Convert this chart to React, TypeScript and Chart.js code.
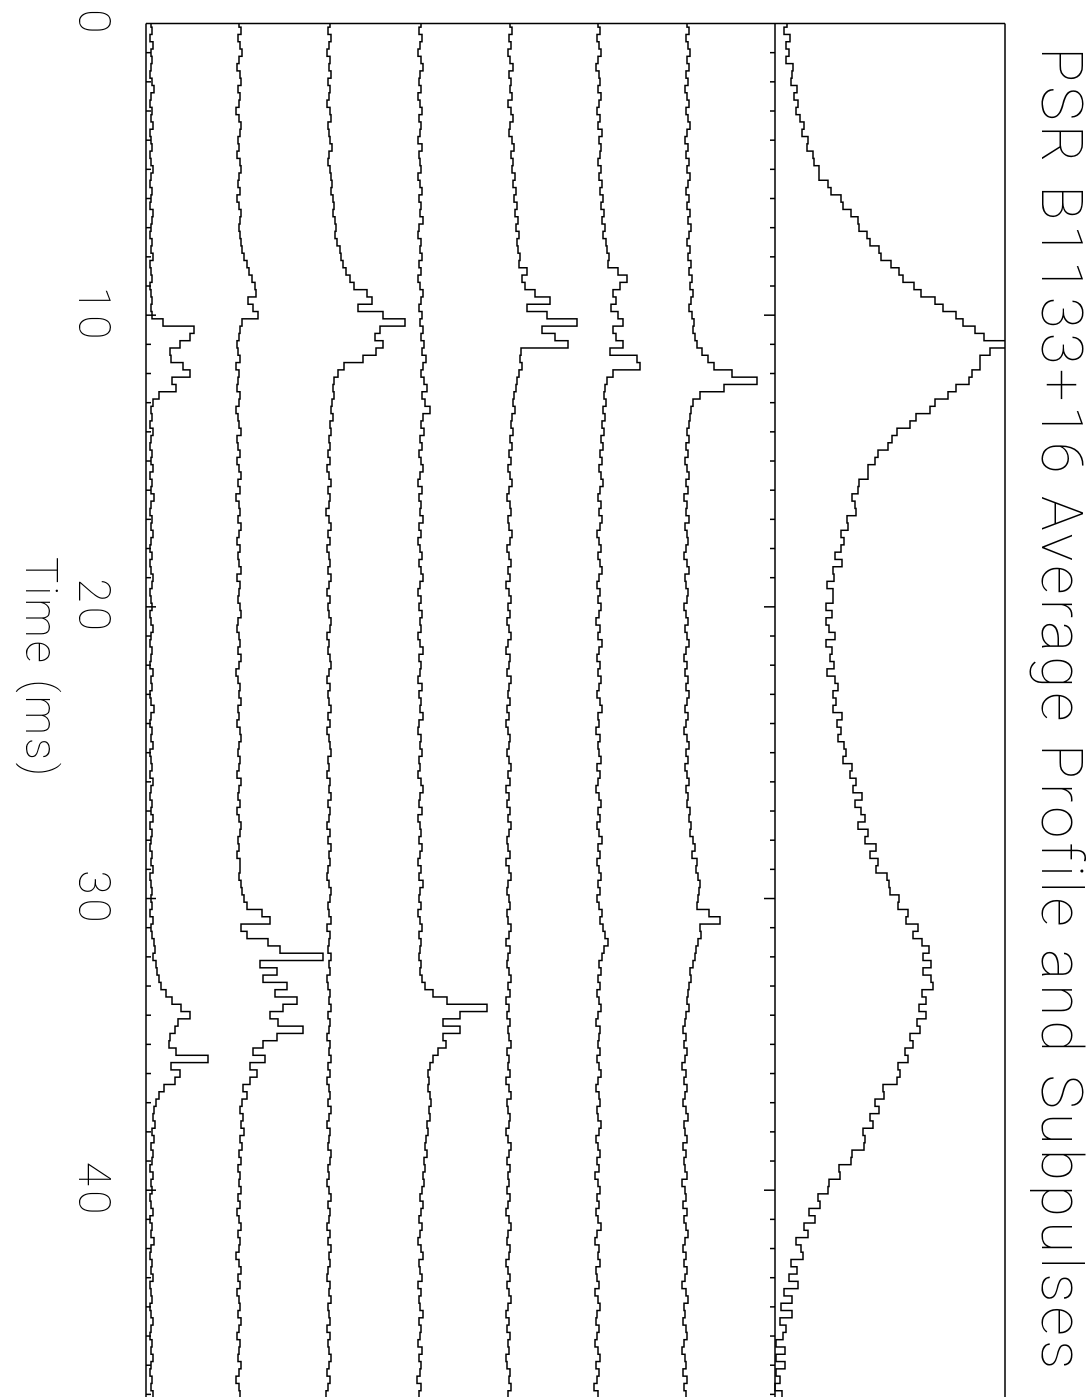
import { useEffect, useRef } from "react";
import { Chart, registerables } from "chart.js";

Chart.register(...registerables);

// Sampling of every trace: one value per 0.25 ms, starting at 0 ms.
const BIN_MS = 0.25;

const TITLE = "PSR B1133+16 Average Profile and Subpulses";
const X_TITLE = "Time (ms)";
const TIME_TICK_STEP = 10;

// Seven single subpulses (bottom to top), intensity in arbitrary units.
const S1 = [
  1, 2, 0, 3, 1, 2, 1, 0, 2, 4, 1, 0, 2, 1, 3, 0, 1, 2, 0, 1,
  3, 1, 0, 2, 1, 0, 3, 2, 1, 0, 2, 1, 3, 0, 1, 2, 0, 1, 2, 1,
  2, 13, 44, 40, 30, 20, 21, 33, 40, 22, 26, 9, 3, 1, 2, 0, 3, 1, 0, 2,
  1, 3, 0, 2, 1, 4, 1, 0, 2, 1, 3, 1, 0, 2, 0, 1, 3, 2, 0, 1,
  2, 0, 1, 3, 1, 0, 2, 1, 0, 3, 1, 2, 0, 1, 4, 1, 0, 2, 1, 3,
  0, 1, 2, 0, 3, 1, 0, 2, 1, 3, 0, 2, 1, 0, 2, 1, 3, 0, 1, 2,
  1, 2, 0, 3, 1, 2, 4, 5, 3, 6, 7, 9, 11, 16, 22, 31, 40, 28, 25, 20,
  19, 26, 58, 21, 30, 25, 14, 9, 6, 4, 3, 5, 2, 4, 1, 3, 2, 0, 3, 1,
  2, 0, 1, 3, 0, 2, 1, 4, 1, 0, 2, 1, 3, 0, 1, 2, 0, 1, 3, 1,
  0, 2, 1, 3, 1, 0, 2, 1, 3, 0,
];

const S2 = [
  1, 3, 0, 2, 4, 1, -1, 2, 3, 0, 2, 1, -2, 1, 3, 2, 0, 1, -1, 2,
  3, 1, 0, 2, -1, 1, 3, 2, 1, 2, 3, 4, 6, 9, 11, 14, 17, 18, 10, 15,
  20, 4, 2, 1, -1, 0, 2, -2, 1, 0, -1, 2, 1, -2, 0, 1, 3, -1, 0, 2,
  -1, 1, 3, 0, 2, -2, 1, 2, 0, 3, 1, -1, 2, 0, 1, 3, -1, 2, 1, 0,
  2, 3, 0, -1, 1, 2, 0, 3, 1, -2, 0, 2, 1, 3, 0, 1, -1, 2, 3, 1,
  0, 2, 1, -1, 3, 1, 0, 2, -1, 1, 3, 2, 0, 1, -1, 2, 2, 1, 3, 4,
  6, 9, 24, 32, 3, 9, 30, 42, 85, 22, 39, 25, 49, 37, 59, 45, 32, 40, 65, 39,
  25, 15, 27, 12, 19, 12, 5, 9, 4, 2, 5, 3, 6, 2, 4, 1, 3, 0, 2, 1,
  3, 0, 2, -1, 1, 3, 0, 2, 1, -2, 1, 3, 0, 2, -1, 1, 2, 0, 3, 1,
  -1, 2, 1, 0, 3, 1, -2, 1, 2, 0,
];

const S3 = [
  2, 0, 3, 1, -1, 2, 1, 3, 0, 2, 1, -1, 2, 3, 0, 1, 2, 4, 1, 0,
  2, 3, 4, 3, 5, 6, 5, 7, 8, 7, 9, 12, 13, 15, 18, 22, 26, 39, 44, 30,
  55, 77, 52, 47, 55, 48, 35, 16, 10, 6, 5, 6, 4, 3, 5, 2, 3, 1, 2, 0,
  2, -1, 1, 3, 0, 2, 1, -2, 1, 3, 0, 2, -1, 1, 2, 0, 3, 1, -1, 2,
  0, 1, 3, 2, -1, 1, 0, 2, 3, 1, -1, 2, 0, 1, 3, 0, 2, -1, 1, 2,
  3, 0, 1, -1, 2, 1, 3, 0, 2, 1, -1, 2, 0, 3, 1, 2, 0, -1, 1, 3,
  2, 0, 1, 3, -1, 2, 1, 0, 3, 1, 2, -1, 0, 2, 1, 3, 0, 2, 1, -1,
  2, 1, 3, 0, 2, -1, 1, 2, 0, 3, 1, -1, 2, 1, 0, 3, 2, 0, 1, -1,
  1, 3, 0, 2, 1, -1, 2, 0, 3, 1, 2, 0, -1, 2, 1, 3, 0, 1, 2, -1,
  2, 0, 1, 3, 1, -1, 2, 0, -2, 1,
];

const S4 = [
  3, 1, 4, 2, 0, 3, 5, 2, 1, 3, 0, 2, 4, 1, 3, 2, 0, 4, 1, 2,
  3, 0, 2, 4, 1, 3, 2, 5, 1, 0, 3, 2, 4, 1, 3, 0, 2, 5, 3, 1,
  4, 2, 5, 3, 6, 4, 8, 5, 3, 6, 9, 4, 7, 12, 5, 3, 6, 2, 4, 1,
  3, 5, 2, 0, 4, 1, 3, 2, 5, 1, 3, 0, 2, 4, 1, 3, 5, 2, 0, 3,
  1, 4, 2, 3, 0, 2, 5, 1, 3, 2, 0, 4, 1, 3, 2, 5, 1, 0, 3, 2,
  4, 1, 2, 0, 3, 5, 2, 1, 4, 0, 2, 3, 1, 4, 2, 0, 3, 1, 5, 2,
  1, 3, 0, 2, 4, 1, 3, 2, 1, 3, 2, 4, 7, 15, 29, 69, 42, 25, 42, 25,
  28, 20, 15, 12, 10, 11, 10, 12, 13, 11, 12, 9, 10, 8, 7, 9, 6, 7, 5, 6,
  4, 2, 5, 3, 1, 4, 2, 0, 3, 5, 1, 2, 4, 0, 3, 1, 2, 5, 1, 3,
  2, 0, 4, 1, 3, 2, -1, 3, 1, 4,
];

const S5 = [
  3, 5, 2, 4, 1, 3, 6, 2, 4, 3, 5, 1, 4, 6, 3, 2, 5, 7, 4, 6,
  5, 8, 6, 9, 7, 10, 8, 11, 9, 12, 10, 11, 13, 12, 20, 15, 18, 28, 43, 20,
  40, 70, 35, 48, 61, 14, 13, 15, 12, 10, 9, 7, 6, 8, 5, 4, 6, 3, 5, 2,
  4, 1, 3, 5, 2, 0, 3, 4, 1, 2, 5, 3, 0, 2, 4, 1, 3, -1, 2, 4,
  1, 3, 0, 2, 4, 1, -1, 3, 2, 0, 4, 2, 1, 3, 0, 2, -1, 1, 3, 2,
  0, 2, 4, 1, 3, -1, 2, 0, 3, 1, 4, 2, 0, 1, 3, -1, 2, 4, 1, 0,
  2, 3, 0, 1, 4, 2, -1, 3, 1, 0, 2, 4, 1, 3, -1, 2, 0, 3, 1, 2,
  4, 0, 2, 1, 3, -1, 2, 4, 0, 1, 3, 2, -1, 1, 4, 2, 0, 3, 1, 2,
  0, 3, 1, -1, 2, 4, 1, 0, 3, 2, -1, 1, 3, 0, 2, 4, 1, -1, 2, 0,
  3, 1, 2, -1, 0, 3, 2, 4, 1, 0,
];

const S6 = [
  2, 4, 1, 3, 5, 2, 0, 3, 4, 2, 5, 3, 1, 4, 2, 6, 3, 5, 4, 2,
  5, 3, 6, 4, 7, 5, 8, 6, 9, 7, 10, 11, 13, 12, 22, 31, 24, 17, 20, 15,
  22, 27, 17, 20, 27, 14, 41, 44, 17, 11, 9, 8, 10, 7, 9, 6, 8, 5, 7, 4,
  6, 3, 5, 7, 4, 2, 5, 3, 6, 4, 1, 3, 5, 2, 4, 6, 3, 1, 4, 2,
  5, 3, 0, 4, 2, 6, 3, 1, 4, 2, 5, 3, 1, 4, 6, 2, 3, 0, 4, 2,
  3, 5, 1, 4, 2, 0, 3, 5, 2, 4, 1, 3, 6, 2, 4, 1, 3, 5, 2, 4,
  1, 3, 6, 4, 7, 9, 12, 8, 6, 3, 5, 2, 4, 1, 3, 5, 2, 0, 4, 3,
  2, 4, 1, 3, 5, 2, 0, 3, 4, 1, 2, 5, 3, 0, 2, 4, 1, 3, -1, 2,
  4, 1, 3, 0, 2, 5, 1, -1, 3, 2, 4, 0, 1, 3, -1, 2, 4, 1, 0, 3,
  1, -1, 2, 4, 0, 3, 1, -2, 2, 0,
];

const S7 = [
  3, 5, 2, 4, 6, 3, 5, 2, 4, 1, 3, 5, 2, 4, 6, 3, 1, 4, 2, 5,
  3, 6, 4, 2, 5, 3, 6, 4, 7, 5, 3, 6, 4, 7, 5, 8, 6, 9, 7, 5,
  8, 10, 9, 11, 13, 18, 24, 30, 48, 73, 40, 16, 9, 7, 6, 5, 3, 5, 2, 4,
  1, 3, 5, 2, 4, 0, 3, 2, 5, 1, 3, 4, 2, 0, 3, 5, 1, 2, 4, 3,
  0, 2, 4, 1, 3, 5, 2, 0, 3, 1, 4, 2, 5, 3, 1, 4, 2, 0, 3, 5,
  2, 4, 1, 3, 5, 2, 4, 3, 6, 5, 7, 6, 9, 11, 8, 13, 12, 14, 16, 15,
  14, 13, 25, 36, 16, 17, 14, 12, 11, 9, 6, 7, 5, 4, 3, 5, 2, 1, -1, 2,
  0, 3, 1, -2, 2, 0, 3, 1, -1, 2, 4, 0, 1, 3, -1, 2, 0, 1, 3, -2,
  1, 2, -1, 3, 0, 2, 4, 1, -1, 2, 0, 3, 1, -2, 2, 4, 0, 1, -1, 2,
  3, 0, -2, 1, 2, -1, 3, 0, 2, -1,
];

// Integrated (average) pulse profile, top panel.
const AVG = [
  12, 9, 15, 11, 14, 11, 18, 17, 16, 22, 19, 23, 21, 25, 29, 27, 33, 32, 38, 39,
  44, 44, 53, 56, 66, 68, 76, 83, 84, 92, 95, 104, 106, 116, 124, 128, 139, 146, 160, 168,
  181, 188, 200, 209, 232, 215, 205, 205, 197, 194, 181, 173, 160, 155, 141, 135, 122, 117, 113, 103,
  100, 93, 93, 84, 83, 77, 80, 81, 72, 73, 66, 69, 66, 60, 67, 58, 59, 52, 58, 58,
  51, 57, 51, 54, 60, 51, 57, 55, 59, 52, 60, 63, 58, 61, 58, 67, 62, 66, 63, 69,
  71, 68, 77, 75, 81, 78, 87, 80, 86, 90, 83, 93, 90, 101, 95, 103, 101, 112, 114, 115,
  124, 123, 133, 131, 143, 138, 147, 154, 148, 156, 148, 156, 158, 147, 151, 144, 151, 142, 145, 135,
  138, 130, 133, 123, 125, 122, 108, 109, 100, 104, 95, 98, 88, 90, 89, 77, 76, 64, 65, 54,
  53, 43, 45, 34, 40, 29, 33, 21, 26, 28, 16, 22, 14, 23, 9, 17, 6, 17, 5, 11,
  8, 1, 10, 1, 10, 1, 5, 0, 7, 1,
];

const TRACES = [S1, S2, S3, S4, S5, S6, S7, AVG];

// Layout of the stacked traces on the shared value axis.
const TRACE_BASELINES = [4, 92, 182, 272, 361, 450, 538, 629];
const PANEL_SPLIT = 629;
const VALUE_RANGE = 859;
const X_MAX_MS = 47.09;
const X_TITLE_AT_MS = 22.1;

const CANVAS_W = 1397;
const CANVAS_H = 1088;
const PLOT_LEFT = 23.5;
const FONT_FAMILY = "Roboto, 'DejaVu Sans', sans-serif";

const framePlugin = {
  id: "pgplotFrame",
  beforeDraw(chart: any) {
    chart.ctx.letterSpacing = "4.3px";
  },
  beforeDatasetsDraw(chart: any) {
    chart.ctx.letterSpacing = "0px";
  },
  afterDatasetsDraw(chart: any) {
    const { ctx, chartArea: a, scales } = chart;
    const x = scales.x;
    const y = scales.y;
    const split = y.getPixelForValue(PANEL_SPLIT);
    ctx.save();
    ctx.strokeStyle = "#000";
    ctx.lineWidth = 1.5;
    ctx.beginPath();
    ctx.moveTo(a.left, a.top);
    ctx.lineTo(a.right + 2, a.top);
    ctx.moveTo(a.left, a.top);
    ctx.lineTo(a.left, a.bottom);
    ctx.moveTo(a.left, a.bottom);
    ctx.lineTo(a.right + 2, a.bottom);
    ctx.moveTo(a.left, split);
    ctx.lineTo(a.right + 2, split);
    for (let t = 1; t <= Math.floor(X_MAX_MS); t++) {
      const px = x.getPixelForValue(t);
      const major = t % TIME_TICK_STEP === 0;
      ctx.moveTo(px, a.bottom);
      ctx.lineTo(px, a.bottom - (major ? 10 : 5));
      ctx.moveTo(px, split);
      ctx.lineTo(px, split + (major ? 11 : 5));
    }
    ctx.stroke();
    ctx.restore();
  },
  afterDraw(chart: any) {
    const { ctx, scales } = chart;
    ctx.save();
    ctx.letterSpacing = "3px";
    ctx.fillStyle = "#000";
    ctx.font = `100 44px ${FONT_FAMILY}`;
    ctx.textAlign = "center";
    ctx.textBaseline = "alphabetic";
    ctx.fillText(X_TITLE, scales.x.getPixelForValue(X_TITLE_AT_MS), 1062);
    ctx.restore();
  },
};

function PulsarChart() {
  const canvasRef = useRef<HTMLCanvasElement | null>(null);

  useEffect(() => {
    const canvas = canvasRef.current;
    if (!canvas) return;
    const chart = new Chart(canvas, {
      type: "line",
      data: {
        datasets: TRACES.map((values, k) => ({
          data: values.map((v, i) => ({ x: i * BIN_MS, y: v + TRACE_BASELINES[k] })),
          borderColor: "#000",
          borderWidth: 1.5,
          pointRadius: 0,
          stepped: "middle" as const,
          fill: false,
        })),
      },
      options: {
        animation: false,
        responsive: false,
        devicePixelRatio: 1,
        layout: { padding: { left: PLOT_LEFT, right: 0, top: 0, bottom: 0 } },
        plugins: {
          legend: { display: false },
          tooltip: { enabled: false },
          title: {
            display: true,
            text: TITLE,
            color: "#000",
            font: { family: FONT_FAMILY, weight: 100 as any, size: 58, lineHeight: 1 },
            padding: { top: 2, bottom: 23 },
          },
        },
        scales: {
          x: {
            type: "linear",
            min: 0,
            max: X_MAX_MS,
            afterFit(scale: any) {
              // keep the plot box at fixed margins; labels sit in the free space
              scale.height = 146;
              scale.paddingLeft = 0;
              scale.paddingRight = 0;
            },
            grid: { display: false },
            border: { display: false },
            ticks: {
              stepSize: TIME_TICK_STEP,
              includeBounds: false,
              autoSkip: false,
              maxRotation: 0,
              minRotation: 0,
              padding: 22,
              color: "#000",
              font: { family: FONT_FAMILY, weight: 100 as any, size: 44 },
              callback: (v: any) => String(v),
            },
          },
          y: { display: false, min: 0, max: VALUE_RANGE },
        },
      },
      plugins: [framePlugin],
    });
    return () => chart.destroy();
  }, []);

  return (
    <div
      style={{
        position: "absolute",
        left: 0,
        top: 0,
        width: CANVAS_H,
        height: CANVAS_W,
        overflow: "hidden",
        background: "#fff",
      }}
    >
      <div
        style={{
          position: "absolute",
          left: 0,
          top: 0,
          width: CANVAS_W,
          height: CANVAS_H,
          transformOrigin: "0 0",
          transform: `translate(${CANVAS_H}px, 0px) rotate(90deg)`,
        }}
      >
        <canvas
          ref={canvasRef}
          width={CANVAS_W}
          height={CANVAS_H}
          style={{ display: "block", width: CANVAS_W, height: CANVAS_H }}
        />
      </div>
    </div>
  );
}

export default function App() {
  return <PulsarChart />;
}
